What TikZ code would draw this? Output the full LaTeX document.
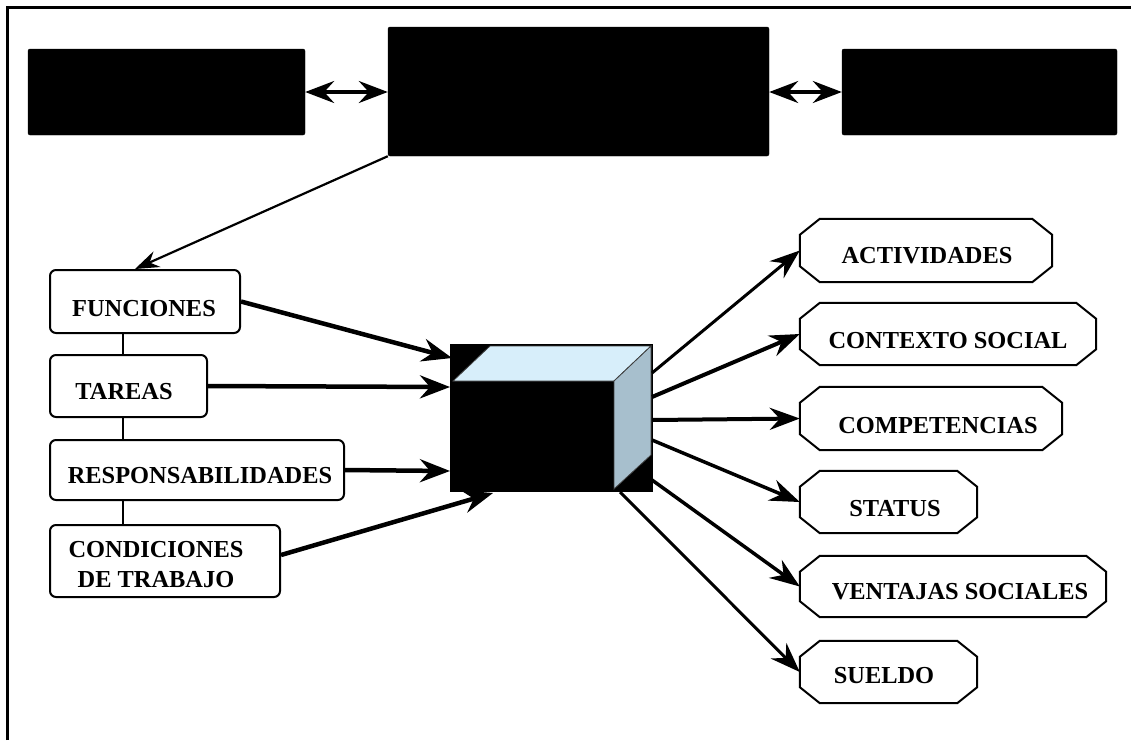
\documentclass[tikz,border=0pt]{standalone}
\usepackage{fontspec}
\setmainfont{Liberation Serif}
\usetikzlibrary{arrows.meta,calc}
\definecolor{topface}{RGB}{215,238,250}
\definecolor{sideface}{RGB}{167,191,205}
\definecolor{faceline}{RGB}{60,60,60}

\begin{document}
\begin{tikzpicture}[x=1pt,y=-1pt,
  blackbox/.style={draw=black,fill=black,rounded corners=2pt,inner sep=0},
  lbox/.style={draw=black,line width=2pt,fill=white,rounded corners=6pt,inner sep=0},
  obox/.style={inner sep=0},
  lbl/.style={font=\fontsize{24.4}{30}\selectfont\bfseries,anchor=base,inner sep=0,align=center},
  dbl/.style={line width=3.5pt,{Stealth[length=29pt,width=22pt,inset=10pt]}-{Stealth[length=29pt,width=22pt,inset=10pt]}},
  inarrow/.style={line width=4.5pt,-{Stealth[length=30pt,width=23pt,inset=10pt]}},
  outarrow/.style={line width=3.5pt,-{Stealth[length=30pt,width=22pt,inset=10pt]}},
  thinarrow/.style={line width=2.2pt,-{Stealth[length=24pt,width=17pt,inset=8pt]}},
  link/.style={line width=1.5pt}
]
\useasboundingbox (0,0) rectangle (1131,740);

% page frame (top and left only)
\draw[line width=3pt] (7,740) -- (7,7) -- (1131,7);

% top row of filled boxes
\node[blackbox,minimum width=277,minimum height=86] (tl) at (166.5,92) {};
\node[blackbox,minimum width=381,minimum height=129] (tm) at (578.5,91.5) {};
\node[blackbox,minimum width=275,minimum height=86] (tr) at (979.5,92) {};
\draw[dbl] (tl.east) -- (tm.west |- tl.east);
\draw[dbl] (tm.east |- tr.west) -- (tr.west);

% left column
\node[lbox,minimum width=190,minimum height=63] (fun) at (145,301.5) {};
\node[lbox,minimum width=157,minimum height=62] (tar) at (128.5,386) {};
\node[lbox,minimum width=294,minimum height=60] (resp) at (197,470) {};
\node[lbox,minimum width=230,minimum height=72] (cond) at (165,561) {};
\node[lbl] (funt) at (144,316) {FUNCIONES};
\node[lbl] (tart) at (124,399) {TAREAS};
\node[lbl] (respt) at (200,483) {RESPONSABILIDADES};
\node[lbl,anchor=center] (condt) at (156,565) {CONDICIONES\\DE TRABAJO};
\draw[link] ([xshift=-22pt]fun.south) -- ([xshift=-22pt]fun.south |- tar.north);
\draw[link] ([xshift=-22pt]fun.south |- tar.south) -- ([xshift=-22pt]fun.south |- resp.north);
\draw[link] ([xshift=-22pt]fun.south |- resp.south) -- ([xshift=-22pt]fun.south |- cond.north);

\draw[thinarrow] (tm.south west) -- ([xshift=-10pt]fun.north);

% the box in the middle
\node[fill=black,inner sep=0,minimum width=203,minimum height=148] (cube) at (551.5,418) {};
\draw[faceline,line width=0.8pt,fill=topface] (453,381) -- (490,346) -- (651,346) -- (614,381) -- cycle;
\draw[faceline,line width=0.8pt,fill=sideface] (614,381) -- (651,346) -- (651,455) -- (614,489) -- cycle;

\coordinate (inF) at (452,358);
\coordinate (inT) at (450,387);
\coordinate (inR) at (450,471);
\coordinate (inC) at (493,493);
\draw[inarrow] (fun.east) -- (inF);
\draw[inarrow] (tar.east) -- (inT);
\draw[inarrow] (resp.east) -- (inR);
\draw[inarrow] ([yshift=6pt]cond.east) -- (inC);

% right column
\node[obox,minimum width=252,minimum height=63] (act) at (926,250.5) {};
\node[obox,minimum width=296,minimum height=62] (ctx) at (948,334) {};
\node[obox,minimum width=262,minimum height=63] (comp) at (931,418.5) {};
\node[obox,minimum width=177,minimum height=62] (stat) at (888.5,502) {};
\node[obox,minimum width=306,minimum height=61] (vent) at (953,586.5) {};
\node[obox,minimum width=177,minimum height=62] (sue) at (888.5,672) {};
\foreach \n in {act,ctx,comp,stat,vent,sue}{
  \draw[line width=2pt,fill=white,line join=miter]
    ([xshift=20pt]\n.north west) -- ([xshift=-20pt]\n.north east)
    -- ([yshift=-16pt]\n.north east) -- ([yshift=16pt]\n.south east)
    -- ([xshift=-20pt]\n.south east) -- ([xshift=20pt]\n.south west)
    -- ([yshift=16pt]\n.south west) -- ([yshift=-16pt]\n.north west) -- cycle;
}
\node[lbl] (actt) at (927,263) {ACTIVIDADES};
\node[lbl] (ctxt) at (948,348) {CONTEXTO SOCIAL};
\node[lbl] (compt) at (938,433) {COMPETENCIAS};
\node[lbl] (statt) at (895,516) {STATUS};
\node[lbl] (ventt) at (960,599) {VENTAJAS SOCIALES};
\node[lbl] (suet) at (884,683) {SUELDO};

\coordinate (oA) at (652,373);
\coordinate (oB) at (652,397);
\coordinate (oC) at (652,420);
\coordinate (oD) at (652,440);
\coordinate (oE) at (652,480);
\coordinate (oF) at (620,492);
\draw[outarrow,line width=3pt] (oA) -- (act.west);
\draw[outarrow,line width=4pt] (oB) -- (ctx.west);
\draw[outarrow,line width=4pt] (oC) -- (comp.west);
\draw[outarrow] (oD) -- (stat.west);
\draw[outarrow] (oE) -- (vent.west);
\draw[outarrow,line width=3pt] (oF) -- (sue.west);
\end{tikzpicture}
\end{document}
